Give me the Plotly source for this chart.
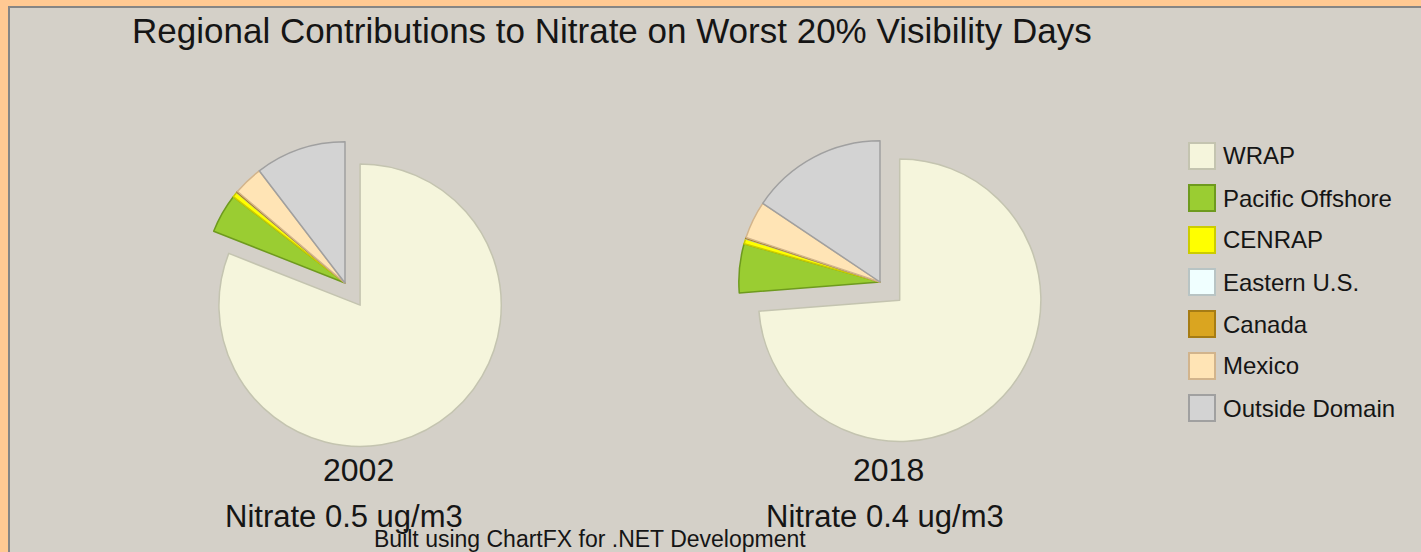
import plotly.graph_objects as go

# --- data -----------------------------------------------------------------
regions = ["WRAP", "Pacific Offshore", "CENRAP", "Eastern U.S.", "Canada", "Mexico", "Outside Domain"]
share_2002 = [81.1, 4.5, 0.6, 0.05, 0.1, 3.4, 10.4]
share_2018 = [73.8, 5.6, 0.6, 0.05, 0.1, 4.3, 15.6]
years = ["2002", "2018"]
nitrate = ["Nitrate 0.5 ug/m3", "Nitrate 0.4 ug/m3"]

fills = ["#F5F5DC", "#9ACD32", "#FFFF00", "#F0FFFF", "#DAA520", "#FFE4B5", "#D3D3D3"]
edges = ["#C4C4B0", "#6E9A1E", "#CCCC00", "#B8C4C4", "#A67C14", "#D2B48C", "#A0A0A0"]

W, H = 1421, 552
FONT = "Liberation Sans, Arial, sans-serif"
TXT = "#151515"


def px(x):
    return x / W


def py(y):
    return 1 - y / H


def label(x, y, text, size, xanchor="center"):
    fig.add_annotation(x=px(x), y=py(y), xref="paper", yref="paper", text=text,
                       xanchor=xanchor, yanchor="middle", showarrow=False,
                       font=dict(family=FONT, size=size, color=TXT))


fig = go.Figure()

# pie centres / half box (px); WRAP slice is pulled out
centres = [(345, 283), (880, 282)]
half = 168
for (cx, cy), vals in zip(centres, [share_2002, share_2018]):
    fig.add_trace(go.Pie(
        labels=regions, values=vals,
        sort=False, direction="clockwise", rotation=0,
        pull=[0.19] + [0] * (len(regions) - 1),
        marker=dict(colors=fills, line=dict(color=edges, width=1.5)),
        textinfo="none", hoverinfo="label+percent",
        showlegend=False,
        domain=dict(x=[px(cx - half), px(cx + half)], y=[py(cy + half), py(cy - half)]),
    ))

# sunken panel on the orange frame
fig.add_shape(type="rect", xref="paper", yref="paper",
              x0=px(9), x1=1.02, y0=-0.02, y1=py(7),
              fillcolor="#D4D0C8", line=dict(color="#858585", width=2), layer="below")

# captions under the pies
for cx, yr in zip([358, 888], years):
    label(cx, 470, yr, 32)
for cx, lab in zip([344, 885], nitrate):
    label(cx, 516, lab, 31)
label(590, 539, "Built using ChartFX for .NET Development", 23)

# legend
for i, (name, fc, ec) in enumerate(zip(regions, fills, edges)):
    yc = 156 + 42 * i
    fig.add_shape(type="rect", xref="paper", yref="paper",
                  x0=px(1189), x1=px(1215), y0=py(yc + 13), y1=py(yc - 13),
                  fillcolor=fc, line=dict(color=ec, width=2))
    label(1221, yc, name, 24, xanchor="left")

fig.update_layout(
    title=dict(text="Regional Contributions to Nitrate on Worst 20% Visibility Days",
               x=px(132), xanchor="left", y=py(31), yanchor="middle",
               font=dict(family=FONT, size=35, color=TXT)),
    width=W, height=H, autosize=False,
    margin=dict(l=0, r=0, t=0, b=0),
    paper_bgcolor="#FFC993",
    plot_bgcolor="#D4D0C8",
)

fig.write_html("out.html", config={"displayModeBar": False},
               post_script="document.body.style.margin='0';")
